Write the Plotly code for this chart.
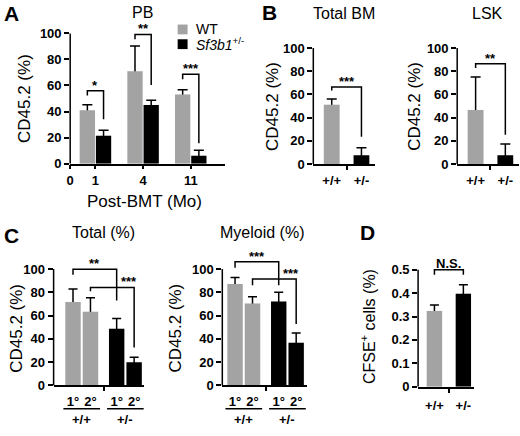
import plotly.graph_objects as go

W, H = 520, 436
FONT = 'Liberation Sans, Arial, sans-serif'
GRAY = '#a3a3a3'
BLACK = '#000000'

series_names = ['WT', '<i>Sf3b1</i><sup>+/-</sup>']
genotypes = ['+/+', '+/-']

# A - PB chimerism after BMT
pb_months = ['1', '4', '11']
pb_wt = [41, 71, 53]
pb_wt_err = [4.2, 19.3, 3.7]
pb_mut = [21.5, 45, 6]
pb_mut_err = [4.2, 3.6, 4.3]
# significance: (left bar, right bar, top, left leg end, right leg end, label, label x)
pb_sig = [(0, 3, 56, 52.3, 34, '*', None),
          (1, 4, 99.2, 95.5, 60.3, '**', None),
          (2, 5, 68.6, 64.8, 15.6, '***', None)]

# B - bone marrow
bm_total = [51, 7.5]
bm_total_err = [5, 6.5]
bm_total_sig = [(0, 1, 66.4, 63.5, 23.5, '***', None)]
bm_lsk = [46.5, 7.4]
bm_lsk_err = [28.5, 9.8]
bm_lsk_sig = [(0, 1, 86.4, 82.8, 25.2, '**', None)]

# C - primary / secondary transplant
tx_rounds = ['1°', '2°', '1°', '2°']
tx_total = [71.6, 63.2, 48.6, 20]
tx_total_err = [11.3, 12.1, 9, 4.2]
tx_total_sig = [(0, 2, 99.7, 95, 73, '**', None),
                (1, 3, 84.2, 80.9, 32.6, '***', 3.2)]
tx_myeloid = [87.1, 70.3, 72, 36.6]
tx_myeloid_err = [5.6, 5.9, 8, 8.4]
tx_myeloid_sig = [(0, 2, 106.2, 101, 86, '***', None),
                  (1, 3, 91.3, 86, 52.8, '***', 3.23)]

# D - homing
cfse = [0.324, 0.397]
cfse_err = [0.025, 0.039]
cfse_sig = [(0, 1, 0.5, 0.478, 0.478, 'N.S.', None)]

fig = go.Figure()


def fx(px):
    return px / W


def fy(py):
    return 1 - py / H


def refs(n):
    return ('x', 'y') if n == 1 else (f'x{n}', f'y{n}')


def bars(n, xs, vals, errs, colors, width, cap=4.5):
    xr, yr = refs(n)
    # transparent copy carries the error bars, real bars go on top so only the upper arm shows
    fig.add_trace(go.Bar(x=xs, y=vals, width=width, marker_color='rgba(0,0,0,0)',
                         error_y=dict(type='data', array=errs, color=BLACK, thickness=1.5, width=cap),
                         hoverinfo='skip', showlegend=False, xaxis=xr, yaxis=yr))
    fig.add_trace(go.Bar(x=xs, y=vals, width=width, marker=dict(color=colors, line_width=0),
                         showlegend=False, xaxis=xr, yaxis=yr))


def brackets(n, xs, sig):
    xr, yr = refs(n)
    for l, r, top, lend, rend, label, lx in sig:
        fig.add_shape(type='path', xref=xr, yref=yr,
                      path=f'M{xs[l]},{lend} L{xs[l]},{top} L{xs[r]},{top} L{xs[r]},{rend}',
                      line=dict(color=BLACK, width=1.5))
        # asterisks sit high in the text box, so pull them closer to the line
        fig.add_annotation(xref=xr, yref=yr, x=(xs[l] + xs[r]) / 2 if lx is None else lx, y=top,
                           text=label, showarrow=False, yanchor='bottom',
                           yshift=-4 if '*' in label else -3,
                           font=dict(size=13, weight='bold'))


def axes(n, xpx, xrange, y0, y100, ymax, yticks, tickvals, ticktext, ticks='outside',
         minor=None, standoff=None):
    # y0 / y100: pixel rows of the zero line and of the top labelled tick
    xr, yr = refs(n)
    ppu = (y0 - y100) / yticks[-1]
    xa = dict(domain=[fx(xpx[0]), fx(xpx[1])], range=xrange, anchor=yr,
              showline=True, linecolor=BLACK, linewidth=1.5, showgrid=False, zeroline=False,
              tickmode='array', tickvals=tickvals, ticktext=ticktext, ticks=ticks,
              ticklen=4, tickwidth=1.5, tickcolor=BLACK,
              tickfont=dict(size=13, weight='bold', color=BLACK))
    if standoff is not None:
        xa['ticklabelstandoff'] = standoff
    if minor is not None:
        xa['minor'] = dict(tickmode='array', tickvals=minor, ticks='outside', ticklen=4,
                           tickwidth=1.5, tickcolor=BLACK)
    ya = dict(domain=[fy(y0), fy(y0 - ymax * ppu)], range=[0, ymax], anchor=xr,
              showline=False, showgrid=False, zeroline=False,
              tickmode='array', tickvals=yticks, ticks='outside', ticklen=5, tickwidth=1.5,
              tickcolor=BLACK, tickfont=dict(size=13, weight='bold', color=BLACK))
    fig.layout['xaxis' if n == 1 else f'xaxis{n}'] = xa
    fig.layout['yaxis' if n == 1 else f'yaxis{n}'] = ya
    fig.add_shape(type='line', xref=f'{xr} domain', yref=yr, x0=0, x1=0, y0=0, y1=yticks[-1],
                  line=dict(color=BLACK, width=1.5))


def text(s, cx, cy, size=16, bold=False, angle=0, anchor='center'):
    fig.add_annotation(xref='paper', yref='paper', x=fx(cx), y=fy(cy), text=s, showarrow=False,
                       xanchor=anchor, yanchor='middle', textangle=angle,
                       font=dict(size=size, weight='bold' if bold else 'normal', color=BLACK))


pct = [0, 20, 40, 60, 80, 100]

# ---- A
pb_pos = [1, 2, 3]
pb_x = [p - 0.17 for p in pb_pos] + [p + 0.17 for p in pb_pos]
bars(1, pb_x, pb_wt + pb_mut, pb_wt_err + pb_mut_err, [GRAY] * 3 + [BLACK] * 3, 0.32, 5)
brackets(1, pb_x, pb_sig)
axes(1, (66.7, 222.3), [0.47, 3.71], 166.7, 34, 118, pct,
     [0.47] + pb_pos, ['0'] + pb_months)

# ---- B
g_x = [0, 1]
bars(2, g_x, bm_total, bm_total_err, [GRAY, BLACK], 0.53, 5)
brackets(2, g_x, bm_total_sig)
axes(2, (311.7, 373.7), [-0.62, 1.45], 167, 49, 112, pct, g_x, genotypes, ticks='',
     minor=[0.5], standoff=4)
bars(3, g_x, bm_lsk, bm_lsk_err, [GRAY, BLACK], 0.53, 5)
brackets(3, g_x, bm_lsk_sig)
axes(3, (456.7, 518.7), [-0.62, 1.45], 167, 49, 112, pct, g_x, genotypes, ticks='',
     minor=[0.5], standoff=4)

# ---- C
tx_x = [0, 1, 2.5, 3.5]
tx_col = [GRAY, GRAY, BLACK, BLACK]
bars(4, tx_x, tx_total, tx_total_err, tx_col, 0.88)
brackets(4, tx_x, tx_total_sig)
axes(4, (50, 141), [-1.11, 4.06], 392.7, 274, 118, pct, tx_x, tx_rounds, ticks='',
     minor=[1.75], standoff=3)
bars(5, tx_x, tx_myeloid, tx_myeloid_err, tx_col, 0.88)
brackets(5, tx_x, tx_myeloid_sig)
axes(5, (220, 305), [-0.73, 4.1], 392.7, 274, 118, pct, tx_x, tx_rounds, ticks='',
     minor=[1.75], standoff=3)
for n in (4, 5):
    xr, _ = refs(n)
    for k, g in enumerate(genotypes):
        a, b = tx_x[2 * k], tx_x[2 * k + 1]
        fig.add_shape(type='line', xref=xr, yref='paper', x0=a - 0.55, x1=b + 0.55,
                      y0=fy(416.5), y1=fy(416.5), line=dict(color=BLACK, width=1.5))
        fig.add_annotation(xref=xr, yref='paper', x=(a + b) / 2, y=fy(427.5), text=g,
                           showarrow=False, yanchor='middle',
                           font=dict(size=13, weight='bold', color=BLACK))

# ---- D
bars(6, g_x, cfse, cfse_err, [GRAY, BLACK], 0.53)
brackets(6, g_x, cfse_sig)
axes(6, (417.3, 474), [-0.565, 1.38], 394, 274.7, 0.56, [0, 0.1, 0.2, 0.3, 0.4, 0.5],
     g_x, genotypes, ticks='', minor=[0.5], standoff=6)

# ---- legend (panel A)
for k, (name, col) in enumerate(zip(series_names, [GRAY, BLACK])):
    top = 25 + k * 15
    fig.add_shape(type='rect', xref='paper', yref='paper', x0=fx(175), x1=fx(185),
                  y0=fy(top), y1=fy(top + 10), fillcolor=col, line_width=0)
    text(name, 191, top + 5, size=14, anchor='left')

# ---- titles and labels
text('A', 8, 14, size=21, bold=True)
text('B', 268, 13, size=21, bold=True)
text('C', 8, 240, size=21, bold=True)
text('D', 366, 237, size=21, bold=True)
text('PB', 140, 13)
text('Total BM', 343, 14)
text('LSK', 487, 14)
text('Total (%)', 100, 237)
text('Myeloid (%)', 260, 237)
text('Post-BMT (Mo)', 142, 205, size=17)
text('CD45.2 (%)', 20, 100, size=17, angle=-90)
text('CD45.2 (%)', 270, 108, size=17, angle=-90)
text('CD45.2 (%)', 413, 108, size=17, angle=-90)
text('CD45.2 (%)', 13, 334, size=17, angle=-90)
text('CD45.2 (%)', 173, 334, size=17, angle=-90)
text('CFSE<sup>+</sup> cells (%)', 367, 333, size=16, angle=-90)

fig.update_layout(width=W, height=H, margin=dict(l=0, r=0, t=0, b=0),
                  plot_bgcolor='white', paper_bgcolor='white', barmode='overlay',
                  showlegend=False, font=dict(family=FONT, color=BLACK))

# the page body has a default 8px margin; drop it so the figure sits at the window origin
fig.write_html('out.html', config={'displayModeBar': False},
               post_script="document.body.style.margin='0';document.body.style.overflow='hidden';")
